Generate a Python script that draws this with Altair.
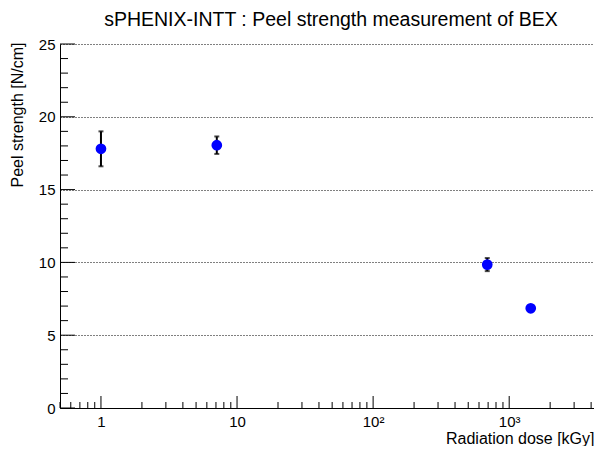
import altair as alt
import pandas as pd

# Data
dose = [1.0, 7.1, 690.0, 1440.0]
strength = [17.8, 18.05, 9.85, 6.85]
error = [1.2, 0.6, 0.45, 0.2]

x_major = [1, 10, 100, 1000]
x_minor = [m * d for d in [0.1, 1, 10, 100, 1000] for m in range(2, 10) if 0.5 <= m * d <= 4200]
y_major = [0, 5, 10, 15, 20, 25]
y_minor = [v for v in range(0, 26) if v % 5 != 0]

W, H = 534, 364
FONT = "Liberation Sans"

df = pd.DataFrame({"dose": dose, "strength": strength, "err": error})
df["lo"] = df["strength"] - df["err"]
df["hi"] = df["strength"] + df["err"]

xscale = alt.Scale(type="log", domain=[0.5, 4200], nice=False)
yscale = alt.Scale(domain=[0, 25], nice=False)

xaxis = alt.Axis(
    values=x_major,
    labelExpr="datum.value == 100 ? '10²' : (datum.value == 1000 ? '10³' : format(datum.value, 'd'))",
    title="Radiation dose [kGy]",
    titleX=W, titleY=30, titleAlign="right", titleBaseline="middle",
    labelPadding=6, grid=False, ticks=False,
)
yaxis = alt.Axis(
    values=y_major,
    title="Peel strength [N/cm]",
    titleX=-43, titleY=-2, titleAngle=270, titleAlign="right", titleBaseline="middle",
    labelPadding=5, grid=True, gridDash=[1, 2], gridColor="#000000", gridWidth=1, ticks=False,
)

def X(field):
    return alt.X(field, scale=xscale, axis=xaxis)

def Y(field):
    return alt.Y(field, scale=yscale, axis=yaxis)

base = alt.Chart(df)

rules = base.mark_rule(color="black", strokeWidth=2).encode(
    x=X("dose:Q"), y=Y("lo:Q"), y2="hi:Q",
)
caps_lo = base.mark_tick(color="black", orient="horizontal", size=5, thickness=2).encode(
    x=X("dose:Q"), y=Y("lo:Q"),
)
caps_hi = base.mark_tick(color="black", orient="horizontal", size=5, thickness=2).encode(
    x=X("dose:Q"), y=Y("hi:Q"),
)
points = base.mark_circle(color="#0000ff", opacity=1, size=115).encode(
    x=X("dose:Q"), y=Y("strength:Q"),
)

def xticks(vals, length):
    return alt.Chart(pd.DataFrame({"v": vals})).mark_rule(color="black", strokeWidth=1).encode(
        x=X("v:Q"), y=alt.value(H), y2=alt.value(H - length),
    )

def yticks(vals, length):
    return alt.Chart(pd.DataFrame({"v": vals})).mark_rule(color="black", strokeWidth=1).encode(
        y=Y("v:Q"), x=alt.value(0), x2=alt.value(length),
    )

chart = alt.layer(
    rules, caps_lo, caps_hi, points,
    xticks(x_major, 12), xticks(x_minor, 6),
    yticks(y_major, 15), yticks(y_minor, 8),
).properties(
    width=W, height=H,
    title=alt.TitleParams(
        "sPHENIX-INTT : Peel strength measurement of BEX",
        anchor="middle", fontSize=19.5, font=FONT, fontWeight="normal", color="black",
        offset=7, dx=4,
    ),
    autosize=alt.AutoSizeParams(type="none"),
    padding={"left": 52, "top": 36, "right": 0, "bottom": 38},
).configure_view(
    stroke="transparent"
).configure_axis(
    domainColor="black", domainWidth=1,
    labelFont=FONT, labelFontSize=15, labelColor="black",
    titleFont=FONT, titleFontSize=16, titleFontWeight="normal", titleColor="black",
)

chart.save("out.html", embed_options={"renderer": "svg", "actions": False})
